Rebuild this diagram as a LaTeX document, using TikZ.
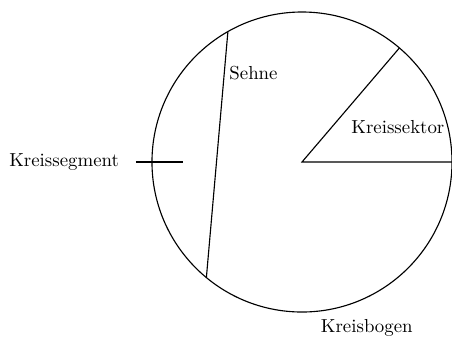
\documentclass[tikz,border=0pt]{standalone}
\usepackage{tikz}
\usetikzlibrary{positioning,calc}

\begin{document}
\begin{tikzpicture}[line width=0.6pt]
    \useasboundingbox (-5.637,-3.285) rectangle (2.8,3.024);

    % Kreis
    \coordinate (M) at (0,0);
    \draw (M) circle (2.8);

    % Kreissektor
    \coordinate (S1) at (0:2.8);
    \coordinate (S2) at (49.5:2.8);
    \draw (S1) -- (M) -- (S2);
    \node (sektor) at (1.79,0.66) {Kreissektor};

    % Sehne
    \coordinate (C1) at (119.6:2.8);
    \coordinate (C2) at (230.4:2.8);
    \draw (C1) -- (C2);
    \node[right, inner sep=1pt] (sehne) at (-1.40,1.66) {Sehne};

    % Kreissegment
    \coordinate (T1) at (-3.10,0);
    \coordinate (T2) at (-2.22,0);
    \draw (T1) -- (T2);
    \node (segment) at (-4.44,0) {Kreissegment};

    % Kreisbogen
    \node (bogen) at (1.21,-3.10) {Kreisbogen};
\end{tikzpicture}
\end{document}
